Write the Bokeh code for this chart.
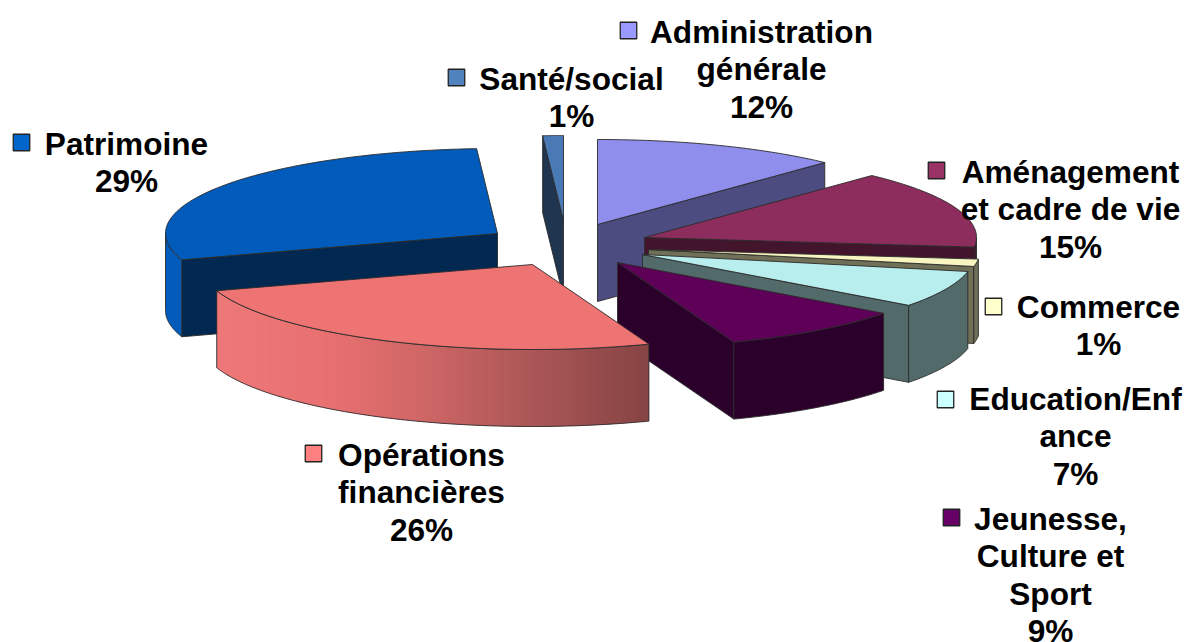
import math
from bokeh.embed import file_html
from bokeh.models import ColumnDataSource, Range1d
from bokeh.plotting import figure
from bokeh.resources import INLINE
from bokeh.core.properties import value

# ---- data ----
categories = ["Administration générale", "Aménagement et cadre de vie", "Commerce",
              "Education/Enfance", "Jeunesse, Culture et Sport", "Opérations financières",
              "Patrimoine", "Santé/social"]
values = [12.0, 14.8, 1.4, 7.0, 9.1, 25.7, 29.0, 1.0]   # slice shares, clockwise from 12 o'clock
label_lines = [["Administration", "générale"], ["Aménagement", "et cadre de vie"], ["Commerce"],
               ["Education/Enf", "ance"], ["Jeunesse,", "Culture et", "Sport"],
               ["Opérations", "financières"], ["Patrimoine"], ["Santé/social"]]
top_colors = ["#8F8EEC", "#8C2D5E", "#F8F5C0", "#B9EEEE", "#5E0058", "#EE7474", "#005BBB", "#4A7AB5"]
cut_colors = ["#4C4C80", "#43152C", "#707058", "#536A6A", "#2B002A", "#864444", "#002850", "#1F3550"]
key_colors = ["#9999FF", "#993366", "#FFFFCC", "#CCFFFF", "#660066", "#FF8080", "#0066CC", "#5082BE"]

# ---- layout (pixel space of the picture) ----
A, B, DEPTH = 332, 85, 77
apex = [(597, 224), (644, 237), (648, 249), (642, 254), (617, 262), (532, 264), (497, 233), (563, 220)]
label_xy = [(761, 31), (1070, 171), (1098, 306), (1075, 398), (1050, 518), (421, 454), (126, 143), (571, 78)]
key_xy = [(628, 30), (936, 170), (993, 306), (945, 399), (951, 517), (313, 453), (21, 142), (456, 77)]
LINE_H = 37.5
draw_order = [7, 0, 6, 1, 2, 3, 4, 5]
OUTLINE = "#2b2b2b"

p = figure(width=1187, height=642, output_backend="svg", toolbar_location=None,
           x_range=Range1d(0, 1187), y_range=Range1d(642, 0), min_border=0,
           outline_line_color=None, background_fill_color="white", border_fill_color="white")
p.axis.visible = False
p.grid.visible = False

def rim(i, deg):
    t = math.radians(deg)
    return apex[i][0] + A * math.sin(t), apex[i][1] - B * math.cos(t)

def lerp_hex(c1, c2, f):
    a = [int(c1[k:k + 2], 16) for k in (1, 3, 5)]
    b = [int(c2[k:k + 2], 16) for k in (1, 3, 5)]
    return "#%02x%02x%02x" % tuple(round(u + (v - u) * f) for u, v in zip(a, b))

# the front slice is shaded from its light left end to a dark right end
FRONT = 5
front_stops = [(218, "#EE7878"), (330, "#E87070"), (420, "#D06666"), (510, "#B25A5A"), (648, "#864444")]

def front_color(x):
    for (x0, c0), (x1, c1) in zip(front_stops, front_stops[1:]):
        if x <= x1:
            return lerp_hex(c0, c1, max(0, (x - x0) / (x1 - x0)))
    return front_stops[-1][1]

total = sum(values)
starts, acc = [], 0.0
for v in values:
    starts.append(acc)
    acc += v * 360 / total

def draw_slice(i):
    t1 = starts[i]
    t2 = t1 + values[i] * 360 / total
    ax, ay = apex[i]
    # cut faces that look toward the viewer
    for t, visible in ((t1, math.sin(math.radians(t1)) < -1e-6), (t2, math.sin(math.radians(t2)) > 1e-6)):
        if visible:
            x, y = rim(i, t)
            p.patch([ax, x, x, ax], [ay, y, y + DEPTH, ay + DEPTH], fill_color=cut_colors[i],
                    line_color=OUTLINE, line_width=0.9)
    # outer wall, front half of the rim only
    w1, w2 = max(t1, 90), min(t2, 270)
    if w2 > w1:
        n = max(2, int((w2 - w1) * 2))
        ang = [w1 + (w2 - w1) * k / n for k in range(n + 1)]
        pts = [rim(i, a) for a in ang]
        xs = [q[0] for q in pts]
        ys = [q[1] for q in pts]
        outline_x = xs + xs[::-1]
        outline_y = ys + [y + DEPTH for y in ys[::-1]]
        if i == FRONT:
            # each strip runs on under the next so no seams show
            for k in range(n - 1, -1, -1):
                c = front_color((xs[k] + xs[k + 1]) / 2)
                s = max(k - 1, 0)
                e = k + 1
                p.patch([xs[s], xs[e], xs[e], xs[s]], [ys[s], ys[e], ys[e] + DEPTH, ys[s] + DEPTH],
                        fill_color=c, line_color=None)
            p.patch(outline_x, outline_y, fill_color=None, line_color=OUTLINE, line_width=0.9)
        else:
            wc = top_colors[i] if i == 6 else cut_colors[i]
            p.patch(outline_x, outline_y, fill_color=wc, line_color=OUTLINE, line_width=0.9)
    # top face
    ang = [t1 + (t2 - t1) * k / 60 for k in range(61)]
    pts = [rim(i, a) for a in ang]
    p.patch([ax] + [q[0] for q in pts], [ay] + [q[1] for q in pts], fill_color=top_colors[i],
            line_color=OUTLINE, line_width=0.9)

for i in draw_order:
    draw_slice(i)

# ---- legend keys and labels ----
KEY = 16.5
p.rect([k[0] for k in key_xy], [k[1] for k in key_xy], width=KEY, height=KEY, fill_color=key_colors,
       line_color="#222222", line_width=1.3)

tx, ty, tt = [], [], []
for i, lines in enumerate(label_lines):
    cx, y0 = label_xy[i]
    full = lines + ["%d%%" % round(values[i])]
    for k, s in enumerate(full):
        tx.append(cx)
        ty.append(y0 + k * LINE_H)
        tt.append(s)
src = ColumnDataSource(dict(x=tx, y=ty, t=tt))
p.text("x", "y", text="t", source=src, text_font=value("Liberation Sans"), text_font_style="bold",
       text_font_size="31.6px", text_align="center", text_baseline="alphabetic", text_color="#000000")

open("out.html", "w").write(file_html(p, INLINE))
